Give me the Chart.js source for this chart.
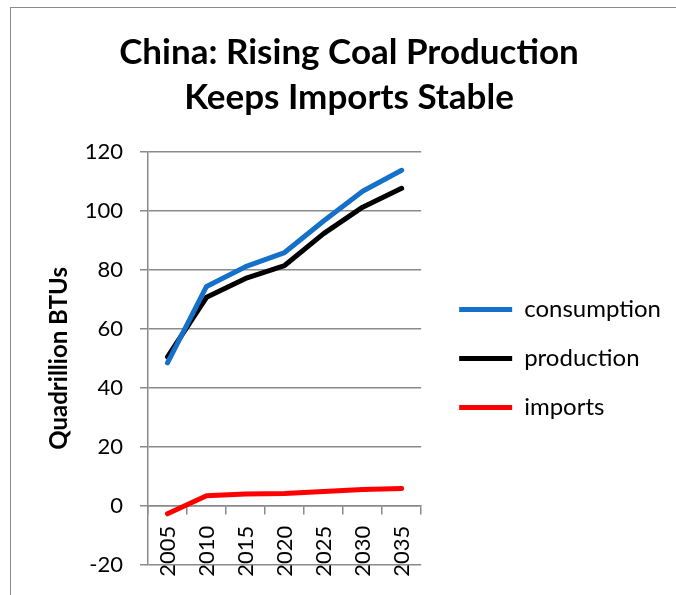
<!DOCTYPE html>
<html>
<head>
<meta charset="utf-8">
<script src="https://cdn.jsdelivr.net/npm/chart.js@4/dist/chart.umd.min.js"></script>
<style>
  html, body { margin: 0; padding: 0; background: #fff; overflow: hidden; }
  #wrap { position: relative; width: 676px; height: 595px; }
  #frame { position: absolute; left: 10px; top: 7px; width: 700px; height: 700px;
           border-left: 1px solid #8a8a8a; border-top: 1px solid #8a8a8a; pointer-events: none; }
</style>
</head>
<body>
<div id="wrap">
  <canvas id="chart" width="676" height="595"></canvas>
  <div id="frame"></div>
</div>
<script>
// data
const years = ['2005', '2010', '2015', '2020', '2025', '2030', '2035'];
const consumption = [48.5, 74.4, 81.1, 85.9, 96.6, 106.7, 113.8];
const production = [50.5, 70.7, 77.1, 81.5, 92.3, 101.3, 107.7];
const imports = [-2.7, 3.4, 4.0, 4.2, 4.9, 5.5, 5.9];
const yMin = -20, yMax = 120, yStep = 20;

const gridGrey = '#8a8a8a';
Chart.defaults.font.family = 'Lato, "Open Sans", sans-serif';
Chart.defaults.color = '#000';

function lineSet(label, data, color) {
  return {
    label: label, data: data,
    borderColor: color, backgroundColor: color,
    borderWidth: 5, pointRadius: 0, tension: 0,
    borderCapStyle: 'round', borderJoinStyle: 'round'
  };
}

new Chart(document.getElementById('chart'), {
  type: 'line',
  data: {
    labels: years,
    datasets: [
      lineSet('consumption', consumption, '#1470c8'),
      lineSet('production', production, '#000000'),
      lineSet('imports', imports, '#ff0000')
    ]
  },
  options: {
    responsive: false,
    animation: false,
    layout: { padding: { left: 27, right: 5, top: 0, bottom: 27 } },
    plugins: {
      title: {
        display: true,
        text: ['China: Rising Coal Production', 'Keeps Imports Stable'],
        font: { size: 35, weight: 'bold', lineHeight: 45 / 35 },
        color: '#000',
        padding: { top: 30, bottom: 32 }
      },
      legend: {
        position: 'right',
        fullSize: false,
        maxWidth: 300,
        labels: {
          usePointStyle: true, pointStyle: 'line', pointStyleWidth: 53,
          padding: 25, font: { size: 24 }, color: '#000'
        }
      },
      tooltip: { enabled: false }
    },
    scales: {
      x: {
        type: 'category',
        offset: true,
        position: { y: 0 },
        grid: { drawOnChartArea: false, offset: true, tickLength: 8, color: gridGrey, lineWidth: 1.5 },
        border: { color: gridGrey, width: 1.5 },
        ticks: { minRotation: 90, maxRotation: 90, autoSkip: false, padding: 12, font: { size: 22 } },
        afterFit: function(s) { s.height = 0; }
      },
      y: {
        min: yMin, max: yMax,
        ticks: { stepSize: yStep, padding: 17, font: { size: 22 } },
        grid: { color: gridGrey, lineWidth: 1.5, tickLength: 8 },
        border: { color: gridGrey, width: 1.5 },
        title: { display: true, text: 'Quadrillion BTUs', font: { size: 24, weight: 'bold' }, padding: { top: 18, bottom: 0 } },
        afterFit: function(s) { s.width = 121; }
      },
      gap: {
        position: 'right',
        grid: { display: false }, border: { display: false }, ticks: { display: false },
        afterFit: function(s) { s.width = 13; }
      }
    }
  }
});
</script>
</body>
</html>
